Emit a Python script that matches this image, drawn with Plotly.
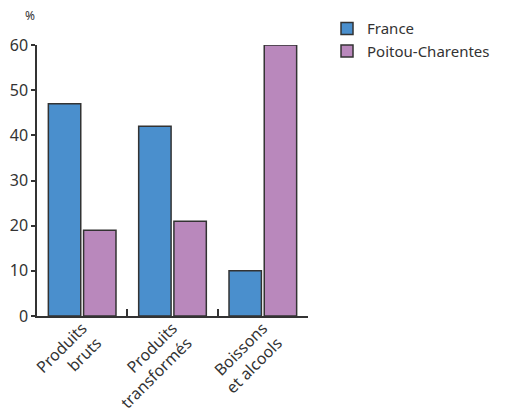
import plotly.graph_objects as go

categories = ["Produits<br>bruts", "Produits<br>transformés", "Boissons<br>et alcools"]
france = [47, 42, 10]
poitou = [19, 21, 60]
y_ticks = [0, 10, 20, 30, 40, 50, 60]

font = "Noto Sans"
dark = "#333333"

fig = go.Figure()
fig.add_trace(go.Bar(name="France", x=categories, y=france,
                     marker=dict(color="#4a8fcd", line=dict(color=dark, width=1.5))))
fig.add_trace(go.Bar(name="Poitou-Charentes", x=categories, y=poitou,
                     marker=dict(color="#b988bc", line=dict(color=dark, width=1.5))))

fig.update_layout(
    width=507, height=408,
    margin=dict(l=37, r=199, t=45, b=92),
    paper_bgcolor="white", plot_bgcolor="white",
    barmode="group", bargap=0.22, bargroupgap=0.08,
    font=dict(family=font, size=14, color=dark),
    legend=dict(xref="container", yref="container", x=0.645, y=0.97,
                xanchor="left", yanchor="top",
                font=dict(size=15, color=dark), tracegroupgap=0,
                bgcolor="rgba(0,0,0,0)"),
    showlegend=True,
)
fig.update_xaxes(
    type="category", showgrid=False, showline=True, linecolor=dark, linewidth=1.5,
    ticks="inside", tickson="boundaries", ticklen=7, tickcolor=dark, tickwidth=1.5,
    tickangle=-45, tickfont=dict(size=16, color=dark), range=[-0.5, 2.5],
    automargin=False, ticklabelstandoff=-5,
)
fig.update_yaxes(
    range=[0, 60], tickvals=y_ticks, showgrid=False, zeroline=False,
    showline=True, linecolor=dark, linewidth=1.5,
    ticks="outside", ticklen=4, tickcolor=dark, tickwidth=1.5,
    tickfont=dict(size=16, color=dark), automargin=False,
)
fig.add_annotation(text="%", xref="paper", yref="paper", x=0.0, y=1.07,
                   xanchor="right", yanchor="bottom", showarrow=False,
                   font=dict(size=12, color=dark))

fig.write_html("out.html", config={"displayModeBar": False},
               post_script="document.body.style.margin='0';")
